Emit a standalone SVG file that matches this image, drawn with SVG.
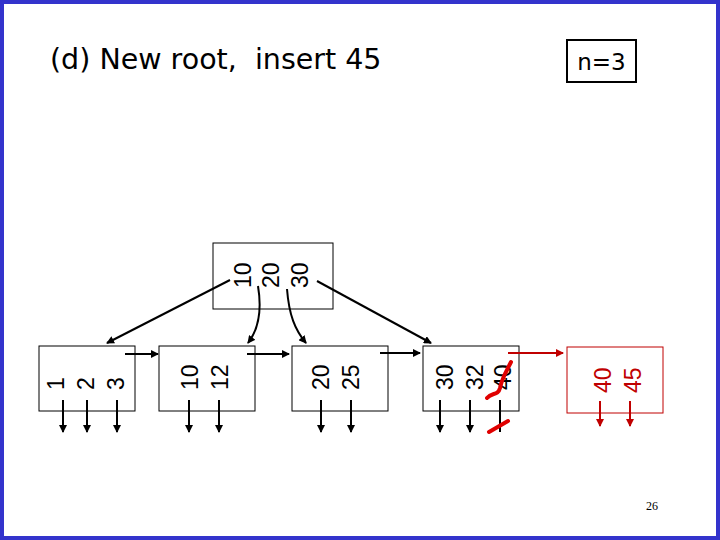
<svg xmlns="http://www.w3.org/2000/svg" width="720" height="540" viewBox="0 0 720 540">
<defs>
<marker id="a" markerWidth="8" markerHeight="8" refX="7" refY="4" orient="auto" markerUnits="userSpaceOnUse"><path d="M0,0 L8,4 L0,8 z" fill="#000"/></marker>
<marker id="r" markerWidth="8" markerHeight="8" refX="7" refY="4" orient="auto" markerUnits="userSpaceOnUse"><path d="M0,0 L8,4 L0,8 z" fill="#c00000"/></marker>
<style>
.k{font-family:"Liberation Sans",Arial,sans-serif;font-size:23px;fill:#000}
.kr{font-family:"Liberation Sans",Arial,sans-serif;font-size:23px;fill:#c00000}
.b{fill:#fff;stroke:#000;stroke-width:1}
.l{stroke:#000;stroke-width:2;fill:none;marker-end:url(#a)}
.lr{stroke:#c00000;stroke-width:2;fill:none;marker-end:url(#r)}
</style>
</defs>
<rect x="0" y="0" width="720" height="540" fill="#fff"/>
<rect x="2" y="2" width="716" height="536" fill="none" stroke="#3333cc" stroke-width="4"/>
<text x="50" y="69" xml:space="preserve" font-family="DejaVu Sans,Verdana,sans-serif" font-size="28.5">(d) New root,  insert 45</text>
<g id="n3"><rect x="567" y="40" width="69" height="42" fill="none" stroke="#000" stroke-width="2"/><text x="601.5" y="70" text-anchor="middle" font-family="DejaVu Sans,Verdana,sans-serif" font-size="23">n=3</text></g>
<g id="root"><rect class="b" x="213" y="243" width="120" height="66"/>
<text class="k" transform="translate(251,288) rotate(-90)">10</text>
<text class="k" transform="translate(279,288) rotate(-90)">20</text>
<text class="k" transform="translate(308,288) rotate(-90)">30</text></g>
<g id="leaf1"><rect class="b" x="39" y="346" width="96" height="65"/>
<text class="k" transform="translate(64,390) rotate(-90)">1</text>
<text class="k" transform="translate(94,390) rotate(-90)">2</text>
<text class="k" transform="translate(124,390) rotate(-90)">3</text></g>
<g id="leaf2"><rect class="b" x="159" y="346" width="96" height="65"/>
<text class="k" transform="translate(198,390) rotate(-90)">10</text>
<text class="k" transform="translate(228,390) rotate(-90)">12</text></g>
<g id="leaf3"><rect class="b" x="292" y="346" width="96" height="65"/>
<text class="k" transform="translate(329,390) rotate(-90)">20</text>
<text class="k" transform="translate(359,390) rotate(-90)">25</text></g>
<g id="leaf4"><rect class="b" x="423" y="346" width="96" height="65"/>
<text class="k" transform="translate(453,390) rotate(-90)">30</text>
<text class="k" transform="translate(483,390) rotate(-90)">32</text>
<text class="k" transform="translate(511,390) rotate(-90)">40</text>
<path d="M487,398 C492,392 498,396 500,388 C502,378 506,372 511,362" stroke="#e00000" stroke-width="4" fill="none" stroke-linecap="round"/></g>
<g id="leaf5"><rect x="567" y="347" width="96" height="66" fill="#fff" stroke="#c00000" stroke-width="1"/>
<text class="kr" transform="translate(611,393) rotate(-90)">40</text>
<text class="kr" transform="translate(641,393) rotate(-90)">45</text></g>
<g id="connectors">
<path class="l" d="M230,280 L107,343"/>
<path class="l" d="M258,286 C262,310 258,330 248,343"/>
<path class="l" d="M287,289 C289,315 295,330 306,343"/>
<path class="l" d="M317,281 L431,343"/>
<path class="l" d="M125,354 L158,354"/>
<path class="l" d="M247,354 L289,354"/>
<path class="l" d="M380,353 L420,353"/>
<path class="lr" d="M508,353 L563,353"/>
<path class="l" d="M63,400 V432"/><path class="l" d="M87,400 V432"/><path class="l" d="M117,400 V432"/>
<path class="l" d="M189,400 V432"/><path class="l" d="M219,400 V432"/>
<path class="l" d="M321,400 V432"/><path class="l" d="M351,400 V432"/>
<path class="l" d="M440,400 V432"/><path class="l" d="M470,400 V432"/><path d="M500,400 V432" stroke="#000" stroke-width="2"/>
<path class="lr" d="M600,401 V426"/><path class="lr" d="M630,401 V426"/>
</g>
<path d="M489,432 L508,421" stroke="#e00000" stroke-width="4" stroke-linecap="round"/>
<text x="652" y="510" text-anchor="middle" font-family="Liberation Serif,serif" font-size="12">26</text>
</svg>
